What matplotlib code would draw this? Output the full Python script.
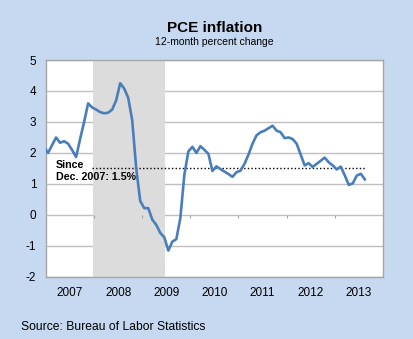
import matplotlib
matplotlib.use("Agg")
import matplotlib.pyplot as plt
import numpy as np

plt.rcParams['font.family'] = ['Liberation Sans', 'DejaVu Sans']

# monthly 12-month percent change, Dec 2006 .. Aug 2013
pce = [2.2,
       2.0, 2.25, 2.5, 2.33, 2.38, 2.3, 2.1, 1.87, 2.45, 3.0, 3.6, 3.47,
       3.4, 3.32, 3.28, 3.3, 3.4, 3.7, 4.25, 4.08, 3.78, 3.05, 1.5, 0.45,
       0.22, 0.22, -0.15, -0.32, -0.58, -0.72, -1.15, -0.86, -0.78, -0.1, 1.3, 2.05,
       2.2, 2.0, 2.22, 2.1, 1.97, 1.42, 1.57, 1.48, 1.4, 1.32, 1.23, 1.38,
       1.43, 1.65, 1.95, 2.3, 2.57, 2.67, 2.72, 2.8, 2.88, 2.72, 2.67, 2.48,
       2.5, 2.45, 2.3, 1.95, 1.6, 1.67, 1.55, 1.65, 1.75, 1.85, 1.7, 1.6,
       1.47, 1.56, 1.28, 0.97, 1.02, 1.27, 1.33, 1.15]
dates = 2006 + (11 + np.arange(len(pce)) + 0.5) / 12

years = [2007, 2008, 2009, 2010, 2011, 2012, 2013]
recession_start, recession_end = 2007.97, 2009.48
avg_since_dec07 = 1.5

bg = '#C6D9F0'
fig = plt.figure(figsize=(4.13, 3.39), dpi=100, facecolor=bg)
ax = fig.add_axes([0.1114, 0.183, 0.8156, 0.64])

ax.axvspan(recession_start, recession_end, color='#DCDCDC', lw=0, zorder=1)
ax.plot(dates, pce, color='#4A7EBB', lw=1.9, zorder=4, solid_joinstyle='round')
ax.hlines(avg_since_dec07, dates[12], dates[-1], colors='black',
          linestyles=(0, (1, 1.6)), lw=1.0, zorder=3)

# small category marks on the zero line
ax.vlines(years[1:], -0.1, 0, colors='#A6A6A6', lw=0.8, zorder=2)

ax.set_xlim(2007, 2014)
ax.set_ylim(-2, 5)
ax.set_yticks(range(-2, 6))
ax.set_yticklabels([str(v) for v in range(-2, 6)], fontsize=8.5)
ax.yaxis.grid(True, color='#BFBFBF', lw=1.0, zorder=0)
ax.set_axisbelow(True)
ax.set_xticks([y + 0.5 for y in years])
ax.set_xticklabels([str(y) for y in years], fontsize=8.5)
ax.tick_params(axis='both', length=0)
ax.tick_params(axis='y', pad=7)
ax.tick_params(axis='x', pad=7)
for s in ax.spines.values():
    s.set_color('#A6A6A6')
    s.set_linewidth(1.0)

ax.text(2007.2, 1.42, 'Since\nDec. 2007: 1.5%', fontsize=7.7, fontweight='bold',
        va='center', ha='left', linespacing=1.25, zorder=5)

fig.text(0.52, 0.907, 'PCE inflation', ha='center', fontsize=11, fontweight='bold')
fig.text(0.52, 0.866, '12-month percent change', ha='center', fontsize=7.5)
fig.text(0.05, 0.027, 'Source: Bureau of Labor Statistics', ha='left', fontsize=8.7)

fig.savefig('out.png', dpi=100, facecolor=bg)
